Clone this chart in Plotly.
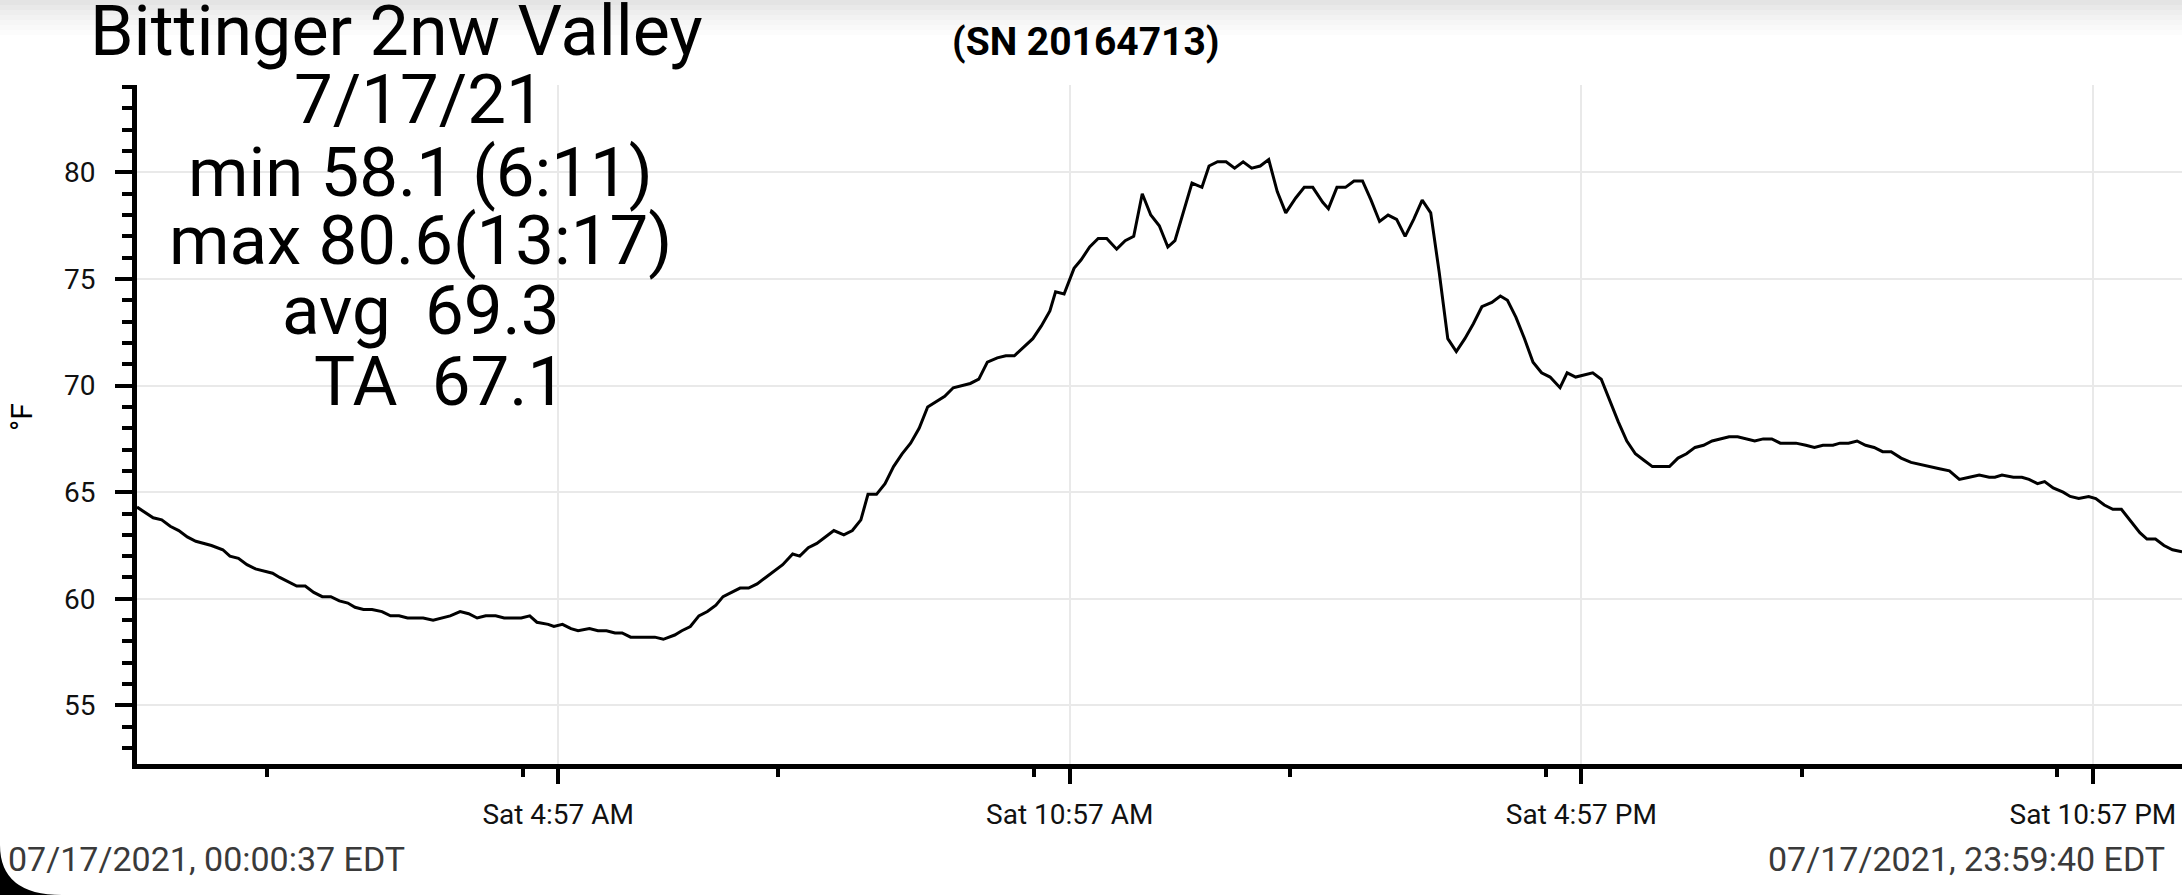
import plotly.graph_objects as go

# logger readings, 07/17/2021 (local time, EDT)
times = [
    "00:00:37", "00:07", "00:12", "00:18", "00:24", "00:30", "00:36", "00:42", "00:48", "00:53",
    "01:01", "01:06", "01:12", "01:18", "01:24", "01:30", "01:36", "01:41", "01:47", "01:53",
    "01:59", "02:05", "02:11", "02:17", "02:23", "02:29", "02:34", "02:40", "02:46", "02:53",
    "02:59", "03:05", "03:11", "03:17", "03:22", "03:29", "03:35", "03:41", "03:48", "03:54",
    "04:00", "04:06", "04:13", "04:19", "04:25", "04:31", "04:37", "04:42", "04:50", "04:54",
    "05:00", "05:06", "05:11", "05:19", "05:25", "05:31", "05:37", "05:42", "05:48", "05:54",
    "06:00", "06:05", "06:11", "06:19", "06:24", "06:30", "06:36", "06:42", "06:48", "06:53",
    "06:59", "07:05", "07:11", "07:17", "07:23", "07:29", "07:35", "07:42", "07:47", "07:53",
    "07:59", "08:05", "08:11", "08:18", "08:24", "08:30", "08:35", "08:41", "08:47", "08:53",
    "08:59", "09:05", "09:11", "09:17", "09:24", "09:29", "09:35", "09:41", "09:47", "09:53",
    "09:59", "10:06", "10:12", "10:18", "10:23", "10:31", "10:37", "10:43", "10:47", "10:53",
    "11:00", "11:05", "11:11", "11:17", "11:23", "11:30", "11:36", "11:42", "11:48", "11:54",
    "12:00", "12:06", "12:11", "12:17", "12:23", "12:30", "12:35", "12:41", "12:47", "12:53",
    "12:59", "13:05", "13:11", "13:17", "13:23", "13:29", "13:36", "13:42", "13:48", "13:55",
    "13:59", "14:05", "14:11", "14:17", "14:23", "14:29", "14:35", "14:41", "14:47", "14:53",
    "14:59", "15:05", "15:11", "15:17", "15:23", "15:29", "15:35", "15:41", "15:47", "15:54",
    "16:00", "16:05", "16:11", "16:17", "16:23", "16:29", "16:35", "16:42", "16:47", "16:53",
    "16:59", "17:05", "17:11", "17:17", "17:23", "17:29", "17:35", "17:41", "17:47", "17:53",
    "17:59", "18:05", "18:11", "18:17", "18:23", "18:29", "18:35", "18:41", "18:47", "18:53",
    "18:59", "19:05", "19:11", "19:17", "19:23", "19:28", "19:35", "19:41", "19:47", "19:54",
    "19:59", "20:05", "20:11", "20:17", "20:23", "20:29", "20:35", "20:42", "20:49", "20:55",
    "21:02", "21:09", "21:16", "21:23", "21:30", "21:37", "21:44", "21:48", "21:53", "22:01",
    "22:07", "22:12", "22:18", "22:23", "22:29", "22:36", "22:41", "22:47", "22:54", "22:59",
    "23:05", "23:11", "23:17", "23:25", "23:30", "23:35", "23:41", "23:47", "23:53", "23:59:40",
]
temps_f = [
    64.3, 64.0, 63.8, 63.7, 63.4, 63.2, 62.9, 62.7, 62.6, 62.5,
    62.3, 62.0, 61.9, 61.6, 61.4, 61.3, 61.2, 61.0, 60.8, 60.6,
    60.6, 60.3, 60.1, 60.1, 59.9, 59.8, 59.6, 59.5, 59.5, 59.4,
    59.2, 59.2, 59.1, 59.1, 59.1, 59.0, 59.1, 59.2, 59.4, 59.3,
    59.1, 59.2, 59.2, 59.1, 59.1, 59.1, 59.2, 58.9, 58.8, 58.7,
    58.8, 58.6, 58.5, 58.6, 58.5, 58.5, 58.4, 58.4, 58.2, 58.2,
    58.2, 58.2, 58.1, 58.3, 58.5, 58.7, 59.2, 59.4, 59.7, 60.1,
    60.3, 60.5, 60.5, 60.7, 61.0, 61.3, 61.6, 62.1, 62.0, 62.4,
    62.6, 62.9, 63.2, 63.0, 63.2, 63.7, 64.9, 64.9, 65.4, 66.2,
    66.8, 67.3, 68.0, 69.0, 69.3, 69.5, 69.9, 70.0, 70.1, 70.3,
    71.1, 71.3, 71.4, 71.4, 71.7, 72.2, 72.8, 73.5, 74.4, 74.3,
    75.5, 75.9, 76.5, 76.9, 76.9, 76.4, 76.8, 77.0, 79.0, 78.0,
    77.5, 76.5, 76.8, 78.2, 79.5, 79.3, 80.3, 80.5, 80.5, 80.2,
    80.5, 80.2, 80.3, 80.6, 79.1, 78.1, 78.8, 79.3, 79.3, 78.6,
    78.3, 79.3, 79.3, 79.6, 79.6, 78.7, 77.7, 78.0, 77.8, 77.0,
    77.8, 78.7, 78.1, 75.3, 72.2, 71.6, 72.2, 72.9, 73.7, 73.9,
    74.2, 74.0, 73.2, 72.2, 71.1, 70.6, 70.4, 69.9, 70.6, 70.4,
    70.5, 70.6, 70.3, 69.3, 68.3, 67.4, 66.8, 66.5, 66.2, 66.2,
    66.2, 66.6, 66.8, 67.1, 67.2, 67.4, 67.5, 67.6, 67.6, 67.5,
    67.4, 67.5, 67.5, 67.3, 67.3, 67.3, 67.2, 67.1, 67.2, 67.2,
    67.3, 67.3, 67.4, 67.2, 67.1, 66.9, 66.9, 66.6, 66.4, 66.3,
    66.2, 66.1, 66.0, 65.6, 65.7, 65.8, 65.7, 65.7, 65.8, 65.7,
    65.7, 65.6, 65.4, 65.5, 65.2, 65.0, 64.8, 64.7, 64.8, 64.7,
    64.4, 64.2, 64.2, 63.5, 63.1, 62.8, 62.8, 62.5, 62.3, 62.2,
]

day = "2021-07-17"
x_ticks = ["04:57", "10:57", "16:57", "22:57"]
x_tick_labels = ["Sat 4:57 AM", "Sat 10:57 AM", "Sat 4:57 PM", "Sat 10:57 PM"]
x_minor_ticks = ["01:32", "04:32", "07:32", "10:32", "13:32", "16:32", "19:32", "22:32"]
y_ticks = [55, 60, 65, 70, 75, 80]

stats_lines = ["7/17/21", "min 58.1 (6:11)", "max 80.6(13:17)",
               "avg\u00a0 69.3", "TA\u00a0 67.1"]

W, H = 2182, 895
L, R, T, B = 137, 0, 85, 131
PW, PH = W - L - R, H - T - B


def px_x(px):
    return (px - L) / PW


def px_y(py):
    return (H - B - py) / PH


x_vals = [f"{day} {t}" if len(t) > 5 else f"{day} {t}:00" for t in times]

fig = go.Figure(go.Scatter(
    x=x_vals, y=temps_f, mode="lines",
    line=dict(color="black", width=3), hoverinfo="skip",
))

fig.update_layout(
    width=W, height=H, autosize=False,
    margin=dict(l=L, r=R, t=T, b=B, pad=0),
    paper_bgcolor="white", plot_bgcolor="white",
    showlegend=False,
    font=dict(family="Roboto", color="black", size=28),
)

fig.update_xaxes(
    type="date",
    range=[x_vals[0], x_vals[-1]],
    tickmode="array",
    tickvals=[f"{day} {t}" for t in x_ticks],
    ticktext=x_tick_labels,
    ticks="outside", ticklen=15, tickwidth=4, tickcolor="black",
    ticklabelstandoff=6,
    tickfont=dict(size=28, color="#111"),
    showline=True, linewidth=5, linecolor="black",
    showgrid=True, gridcolor="#e9e9e9", gridwidth=1.5,
    zeroline=False,
    minor=dict(tickmode="array", tickvals=[f"{day} {t}" for t in x_minor_ticks],
               ticks="outside", ticklen=8, tickwidth=4, tickcolor="black",
               showgrid=False),
)

fig.update_yaxes(
    range=[52.25, 84.1],
    tickmode="array", tickvals=y_ticks,
    ticks="outside", ticklen=17, tickwidth=4, tickcolor="black",
    ticklabelstandoff=14,
    tickfont=dict(size=28, color="#111"),
    showline=True, linewidth=5, linecolor="black",
    showgrid=True, gridcolor="#e9e9e9", gridwidth=1.5,
    zeroline=False,
    minor=dict(dtick=1, ticks="outside", ticklen=10, tickwidth=4,
               tickcolor="black", showgrid=False),
)

annotations = [
    dict(text="Bittinger 2nw Valley", x=px_x(396), y=px_y(31), font=dict(size=70)),
    dict(text="(SN 20164713)", x=px_x(1086), y=px_y(42),
         font=dict(size=39, family="Roboto", weight="bold")),
    dict(text="°F", x=px_x(21), y=px_y(417), textangle=-90, font=dict(size=30)),
    dict(text="07/17/2021, 00:00:37 EDT", x=px_x(6), y=px_y(859), xanchor="left",
         font=dict(size=34, color="#3a3a3a")),
    dict(text="07/17/2021, 23:59:40 EDT", x=px_x(2167), y=px_y(859), xanchor="right",
         font=dict(size=34, color="#3a3a3a")),
]
stat_x = [419, 420, 420, 421, 440]
stat_y = [99, 172, 241, 310, 381]
for txt, sx, sy in zip(stats_lines, stat_x, stat_y):
    annotations.append(dict(text=txt, x=px_x(sx), y=px_y(sy), font=dict(size=69)))

for a in annotations:
    a.setdefault("xanchor", "center")
    a.update(xref="paper", yref="paper", yanchor="middle", showarrow=False)
fig.update_layout(annotations=annotations)

# screenshot artefacts: grey shading along the top edge, rounded screen corner
shapes = []
band_colors = ["#e4e4e4", "#e9e9e9", "#eeeeee", "#f2f2f2", "#f6f6f6", "#f9f9f9", "#fcfcfc"]
for i, c in enumerate(band_colors):
    shapes.append(dict(type="rect", xref="paper", yref="paper", layer="below",
                       x0=px_x(0), x1=px_x(W), y0=px_y(5 * i + 5), y1=px_y(5 * i),
                       fillcolor=c, line=dict(width=0)))
cx0, cy0, cx1, cy1 = px_x(0), px_y(845), px_x(62), px_y(H)
shapes.append(dict(type="path", xref="paper", yref="paper", layer="above",
                   path=f"M {cx0} {cy0} Q {cx0} {cy1} {cx1} {cy1} L {cx0} {cy1} Z",
                   fillcolor="black", line=dict(width=0)))
fig.update_layout(shapes=shapes)

fig.write_html(
    "out.html",
    config={"displayModeBar": False},
    post_script="document.body.style.margin='0';document.body.style.overflow='hidden';",
)
